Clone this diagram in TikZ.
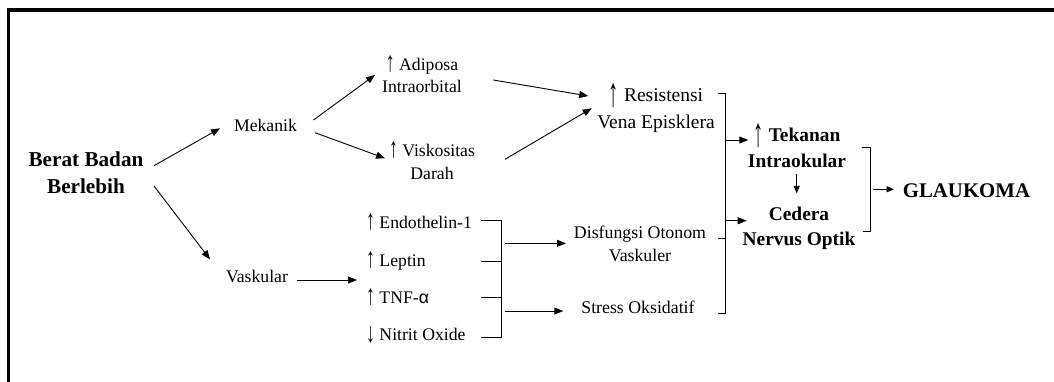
\documentclass[tikz,border=0pt]{standalone}
\usepackage{fontspec}
\usepackage{graphicx}
\setmainfont{Liberation Serif}
\newfontfamily\altsans{Liberation Sans}
\usetikzlibrary{arrows.meta}
\newcommand\upar{\raisebox{-1pt}{\scalebox{1}[1.6]{↑}}}
\newcommand\downar{\raisebox{-2pt}{\scalebox{1}[1.6]{↓}}}
\newcommand\bigupar{\raisebox{-5pt}{\scalebox{1.05}[2.1]{\mdseries ↑}}}
\begin{document}
\begin{tikzpicture}[x=1pt,y=-1pt,
  lbl/.style={inner sep=0pt,align=center,font=\fontsize{17.7}{22.7}\selectfont},
  bld/.style={inner sep=0pt,align=center,font=\bfseries\fontsize{19.4}{26.7}\selectfont},
  conn/.style={line width=0.9pt,black},
  arr/.style={conn,-{Triangle[length=9pt,width=7pt]}},
  sarr/.style={conn,-{Triangle[length=7.5pt,width=6pt]}},
  border/.style={line width=3.4pt,black}]
\useasboundingbox (0,0) rectangle (1054,381);
\draw[border] (8.5,390) -- (8.5,10) -- (1060,10);
% nodes (base = baseline of last line)
\node[bld,anchor=base,font=\bfseries\fontsize{21.2}{26.6}\selectfont] (berat) at (86,193.3) {Berat Badan\\Berlebih};
\node[lbl,anchor=base] (mek) at (265.5,131.7) {Mekanik};
\node[lbl,anchor=base] (vask) at (257,282.7) {Vaskular};
\node[lbl,anchor=base] (adip) at (422,92.7) {\upar{} Adiposa\\Intraorbital};
\node[lbl,anchor=base] (visk) at (432,179.3) {\upar{} Viskositas\\Darah};
\node[lbl,anchor=base west] (endo) at (366,228.3) {\upar{} Endothelin-1};
\node[lbl,anchor=base west] (lep) at (366,266.7) {\upar{} Leptin};
\node[lbl,anchor=base west] (tnf) at (366,303.3) {\upar{} TNF-{\altsans α}};
\node[lbl,anchor=base west] (nit) at (366,340) {\downar{} Nitrit Oxide};
\node[lbl,anchor=base,font=\fontsize{19.5}{26.6}\selectfont] (res) at (656,128.3) {\bigupar{} Resistensi\\Vena Episklera};
\node[lbl,anchor=base,font=\fontsize{17.8}{23.4}\selectfont] (dis) at (640,261.7) {Disfungsi Otonom\\Vaskuler};
\node[lbl,anchor=base,font=\fontsize{17.8}{23.4}\selectfont] (str) at (638,313.3) {Stress Oksidatif};
\node[bld,anchor=base] (tek) at (797,167.7) {\bigupar{} Tekanan\\Intraokular};
\node[bld,anchor=base,font=\bfseries\fontsize{19.4}{25}\selectfont] (ced) at (799,245) {Cedera\\Nervus Optik};
\node[bld,anchor=base west,font=\bfseries\fontsize{20.8}{24}\selectfont] (gla) at (902.7,197.3) {GLAUKOMA};
% connectors
\draw[arr] ([shift={(68,-27.6)}]berat.base) -- ([shift={(-45.5,-3.4)}]mek.base);
\draw[arr] ([shift={(68,-7.3)}]berat.base) -- ([shift={(-47,-23.4)}]vask.base);
\draw[arr] ([shift={(48,-11.7)}]mek.base) -- ([shift={(-47,-17.7)}]adip.base);
\draw[arr] ([shift={(49.5,1)}]mek.base) -- ([shift={(-47,-21)}]visk.base);
\draw[arr] ([shift={(71.3,-12.7)}]adip.base) -- ([shift={(-67.7,-32.3)}]res.base);
\draw[arr] ([shift={(73,-20)}]visk.base) -- ([shift={(-64.3,-20)}]res.base);
\draw[arr] ([shift={(40,-2.7)}]vask.base) -- ([shift={(-9,13.3)}]lep.base west);
% bracket 1
\draw[conn] ([shift={(115,-8)}]endo.base west) -- ++(20,0) coordinate (b1t) |- ([shift={(115,-3)}]nit.base west);
\draw[conn] ([shift={(115,-5.4)}]lep.base west) -- ++(20,0);
\draw[conn] ([shift={(115,-6.3)}]tnf.base west) -- ++(20,0);
\draw[arr] ([shift={(4,23)}]b1t) -- ([shift={(-74,-18.4)}]dis.base);
\draw[arr] ([shift={(4,90.7)}]b1t) -- ([shift={(-74.7,-2.3)}]str.base);
% bracket 2
\draw[conn] ([shift={(62.3,-35)}]res.base) -- ++(7.2,0) coordinate (b2t) |- ([shift={(80.3,0)}]str.base);
\draw[conn] ([shift={(78.3,-23.4)}]dis.base) -- ++(7.2,0);
\draw[arr] ([shift={(0,46.7)}]b2t) -- ([shift={(-48.7,-27.7)}]tek.base);
\draw[arr] ([shift={(0,127.4)}]b2t) -- ([shift={(-52.3,-24.3)}]ced.base);
% tekanan -> cedera
\draw[sarr] ([shift={(-0.3,6.3)}]tek.base) -- ([shift={(-2.3,-51.7)}]ced.base);
% bracket 3
\draw[conn] ([shift={(64.7,-20)}]tek.base) -- ++(9,0) coordinate (b3t) |- ([shift={(64,-13.3)}]ced.base);
\draw[sarr] ([shift={(2,41.6)}]b3t) -- ([shift={(-8.7,-8)}]gla.base west);
\end{tikzpicture}
\end{document}
